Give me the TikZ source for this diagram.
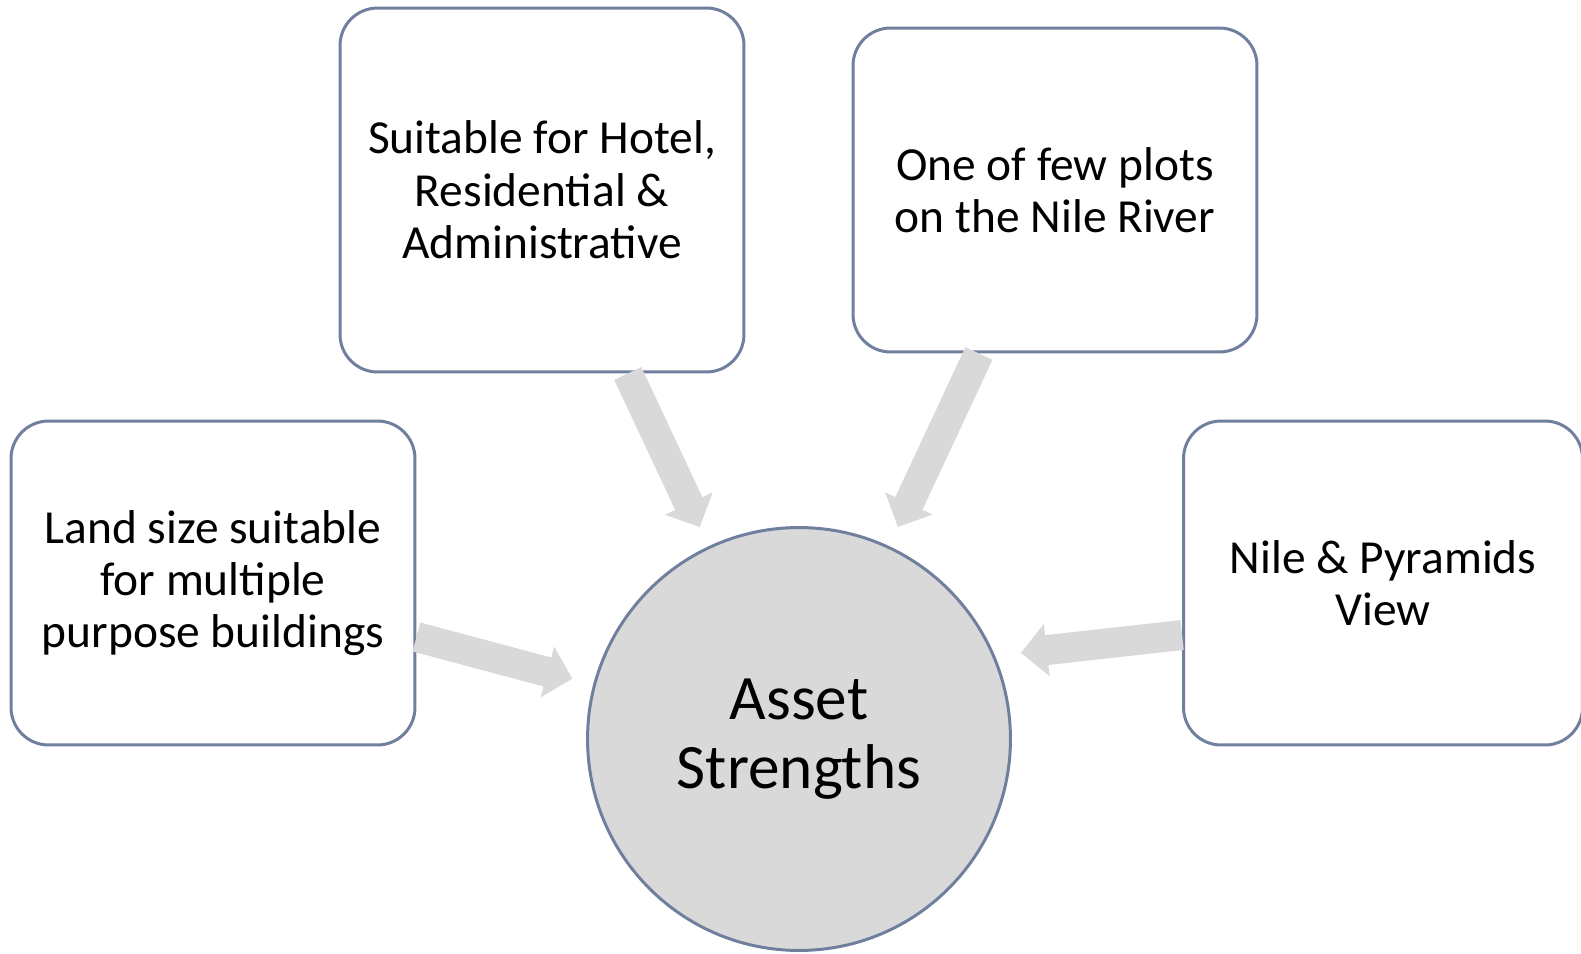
\documentclass[tikz,border=0pt]{standalone}
\usepackage{fontspec}
\setmainfont{Carlito}
\usetikzlibrary{arrows.meta}
\definecolor{edgeblue}{RGB}{112,127,158}
\definecolor{lightgrey}{RGB}{217,217,217}

\begin{document}
\begin{tikzpicture}[x=0.02cm,y=-0.02cm]
        \useasboundingbox (0,0) rectangle (1581,953);

        \begin{scope}[every node/.style={draw=edgeblue, line width=1.7pt, align=center, font=\fontsize{27}{29.8}\selectfont}]
          \node[rounded corners=0.75cm, minimum width=8.08cm, minimum height=6.48cm] (1) at (213,583) {Land size suitable\\for multiple\\purpose buildings};
          \node[rounded corners=0.75cm, minimum width=8.08cm, minimum height=7.28cm] (2) at (542,190) {Suitable for Hotel,\\Residential \&\\Administrative};
          \node[rounded corners=0.75cm, minimum width=8.08cm, minimum height=6.48cm] (3) at (1055,190) {One of few plots\\on the Nile River};
          \node[rounded corners=0.75cm, minimum width=7.98cm, minimum height=6.48cm] (4) at (1383,583) {Nile \& Pyramids\\View};
          \node[circle, fill=lightgrey, minimum size=8.46cm, font=\fontsize{36}{39.5}\selectfont] (5) at (799,739) {Asset\\Strengths};
        \end{scope}

        \begin{scope}[every edge/.style={draw=lightgrey, line width=0.6cm, -{Triangle[width=1.02cm,length=0.52cm]}}]
          \path (1) edge[shorten >=0.43cm] (5);
          \path (2) edge[shorten >=0.42cm] (5);
          \path (3) edge[shorten >=0.42cm] (5);
          \path ([yshift=-1.04cm]4.west) edge[shorten >=0.52cm] (5.23);
        \end{scope}

      \end{tikzpicture}
\end{document}
